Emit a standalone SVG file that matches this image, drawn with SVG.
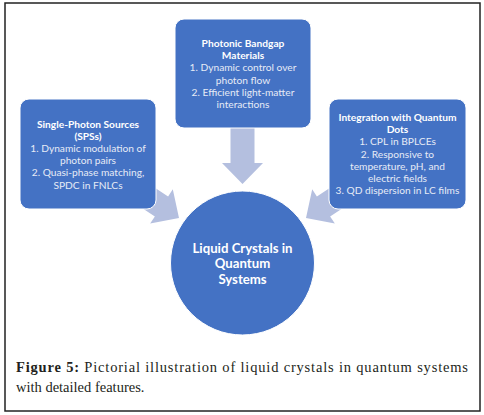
<svg xmlns="http://www.w3.org/2000/svg" width="484" height="415" viewBox="0 0 484 415">
<defs>
<style>
.box{fill:#4472C4;stroke:#ffffff;stroke-width:1}
.arr{fill:#B4BFDF}
.t{font-family:Lato,"Open Sans",sans-serif;text-anchor:middle;font-size:10.2px}
.b{font-weight:bold;fill:#ffffff}
.r{fill:#e6ebf6}
.c{font-family:Lato,"Open Sans",sans-serif;text-anchor:middle;font-size:13.2px;font-weight:bold;fill:#ffffff}
.cap{font-family:"Liberation Serif",serif;font-size:14.5px;fill:#231f20}
</style>
<path id="arrow" d="M-60,-12 L-21,-12 L-21,-20.5 L0,0 L-21,20.5 L-21,12 L-60,12 Z"/>
</defs>
<rect x="0" y="0" width="484" height="415" fill="#ffffff"/>
<rect x="5" y="3" width="475" height="408" fill="#ffffff" stroke="#222222" stroke-width="1.5"/>
<g id="connectors">
<use href="#arrow" class="arr" transform="translate(242.5,184) rotate(90)"/>
<use href="#arrow" class="arr" transform="translate(179,218) rotate(33.5)"/>
<use href="#arrow" class="arr" transform="translate(306,218) rotate(146.5)"/>
</g>
<g id="top">
<rect class="box" x="175" y="19" width="136" height="109" rx="9"/>
<text class="t b" x="243" y="47">Photonic Bandgap</text>
<text class="t b" x="243" y="59.2">Materials</text>
<text class="t r" x="243" y="71.4">1. Dynamic control over</text>
<text class="t r" x="243" y="83.6">photon flow</text>
<text class="t r" x="243" y="95.8">2. Efficient light-matter</text>
<text class="t r" x="243" y="108">interactions</text>
</g>
<g id="left">
<rect class="box" x="20" y="99" width="136" height="110" rx="9"/>
<text class="t b" x="88" y="127.5">Single-Photon Sources</text>
<text class="t b" x="88" y="139.7">(SPSs)</text>
<text class="t r" x="88" y="151.9">1. Dynamic modulation of</text>
<text class="t r" x="88" y="164.1">photon pairs</text>
<text class="t r" x="88" y="176.3">2. Quasi-phase matching,</text>
<text class="t r" x="88" y="188.5">SPDC in FNLCs</text>
</g>
<g id="right">
<rect class="box" x="329" y="99" width="137" height="110" rx="9"/>
<text class="t b" x="397.5" y="121">Integration with Quantum</text>
<text class="t b" x="397.5" y="133.2">Dots</text>
<text class="t r" x="397.5" y="145.4">1. CPL in BPLCEs</text>
<text class="t r" x="397.5" y="157.6">2. Responsive to</text>
<text class="t r" x="397.5" y="169.8">temperature, pH, and</text>
<text class="t r" x="397.5" y="182">electric fields</text>
<text class="t r" x="397.5" y="194.2">3. QD dispersion in LC films</text>
</g>
<g id="center">
<circle cx="242.5" cy="263" r="72" fill="#4472C4" stroke="#ffffff" stroke-width="1"/>
<text class="c" x="242.5" y="252.5">Liquid Crystals in</text>
<text class="c" x="242.5" y="268">Quantum</text>
<text class="c" x="242.5" y="283.5">Systems</text>
</g>
<g id="caption">
<text class="cap" x="16" y="372" textLength="452" lengthAdjust="spacing"><tspan font-weight="bold">Figure 5:</tspan> Pictorial illustration of liquid crystals in quantum systems</text>
<text class="cap" x="16" y="392">with detailed features.</text>
</g>
</svg>
